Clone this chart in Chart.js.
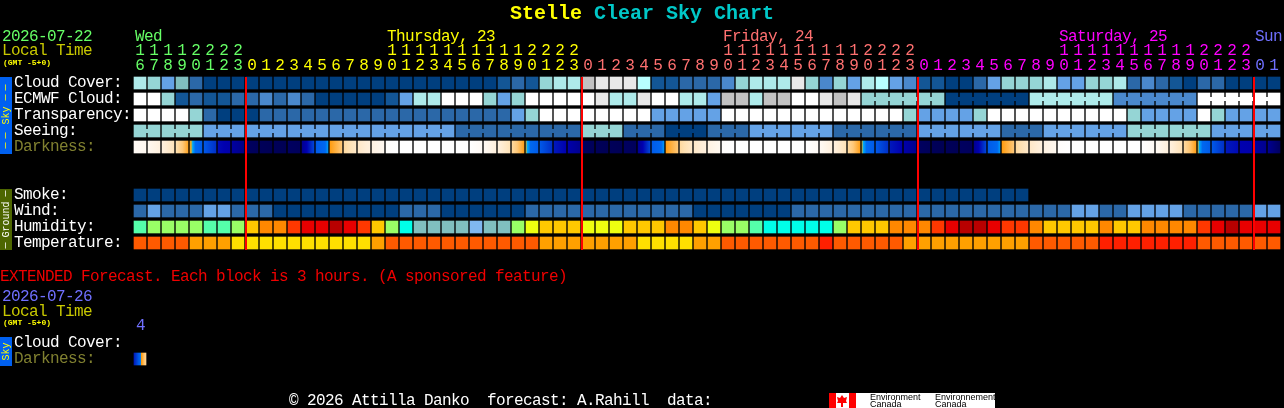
<!DOCTYPE html>
<html>
<head>
<meta charset="utf-8">
<title>Stelle Clear Sky Chart</title>
<script src="https://cdn.jsdelivr.net/npm/chart.js@4"></script>
<style>
  html, body { margin: 0; padding: 0; background: #000; }
  canvas { display: block; }
</style>
</head>
<body>
<canvas id="csc" width="1284" height="408"></canvas>
<script>
/* ------------------ Data ------------------ */
const hours = [16,17,18,19,20,21,22,23,
  0,1,2,3,4,5,6,7,8,9,10,11,12,13,14,15,16,17,18,19,20,21,22,23,
  0,1,2,3,4,5,6,7,8,9,10,11,12,13,14,15,16,17,18,19,20,21,22,23,
  0,1,2,3,4,5,6,7,8,9,10,11,12,13,14,15,16,17,18,19,20,21,22,23,
  0,1];
const dayOfHour = [0,0,0,0,0,0,0,0,
  1,1,1,1,1,1,1,1,1,1,1,1,1,1,1,1,1,1,1,1,1,1,1,1,
  2,2,2,2,2,2,2,2,2,2,2,2,2,2,2,2,2,2,2,2,2,2,2,2,
  3,3,3,3,3,3,3,3,3,3,3,3,3,3,3,3,3,3,3,3,3,3,3,3,
  4,4];
const dayNames = ['Wed', 'Thursday, 23', 'Friday, 24', 'Saturday, 25', 'Sun'];
const dayFirstCol = [0, 18, 42, 66, 80];
const midnightCols = [8, 32, 56, 80];

// cloud-like levels, index into skyPalette
const cloudCover = [7,6,4,5,2,0,0,0,0,0,0,0,0,0,0,0,0,0,0,0,0,0,0,0,0,0,1,2,1,6,7,7,
  9,10,10,10,8,1,1,2,2,2,3,6,7,7,7,10,6,3,6,4,
  7,8,4,3,1,1,0,0,2,4,6,6,6,7,4,4,6,6,7,2,3,2,1,0,2,2,0,0,0,0];
const ecmwfCloud = [11,11,6,1,2,1,1,2,2,3,2,3,2,0,0,0,0,0,1,4,7,7,
  11,11,11,6,4,6,11,11,11,11,11,10,7,7,10,11,11,7,7,4,9,9,7,9,9,11,11,10,9,10,
  6,6,6,6,6,6,0,0,0,0,0,0,7,7,7,7,7,7,3,3,3,3,3,3,11,11,11,11,11,11];
const transparency = [11,11,11,11,6,2,0,0,0,2,2,2,2,2,2,2,2,2,2,2,2,2,2,2,2,2,2,4,6,11,11,11,
  11,11,11,11,11,4,4,4,4,4,11,11,11,11,11,11,11,11,11,11,
  11,11,11,6,4,4,4,4,6,11,11,11,11,11,11,11,11,11,11,6,4,4,4,4,11,6,4,4,4,4];
const seeing = [6,6,6,6,6,4,4,4,4,4,4,4,4,4,4,4,4,4,4,4,4,4,4,2,2,2,2,2,2,2,2,2,
  6,6,6,2,2,2,0,0,0,2,2,2,4,4,4,4,4,4,2,2,2,2,2,2,
  4,4,4,4,4,4,2,2,2,4,4,4,4,4,4,6,6,6,6,6,6,4,4,4,4,4];
const smoke = [0,0,0,0,0,0,0,0,0,0,0,0,0,0,0,0,0,0,0,0,0,0,0,0,0,0,0,0,0,0,0,0,
  0,0,0,0,0,0,0,0,0,0,0,0,0,0,0,0,0,0,0,0,0,0,0,0,0,0,0,0,0,0,0,0];
const wind = [2,4,2,2,2,4,4,2,2,2,0,0,0,0,0,0,0,0,0,2,2,2,0,0,0,0,0,0,2,2,2,2,
  2,2,2,2,2,2,2,2,0,0,0,0,0,0,0,2,2,2,2,2,
  2,2,2,2,2,2,2,2,2,2,2,2,2,2,2,4,4,2,2,4,4,4,4,2,2,2,2,2,4,4];
// index into humidityPalette
const humidity = [7,6,6,6,6,7,7,6,4,3,3,2,1,1,0,1,2,4,6,8,9,9,9,9,10,9,9,6,5,4,4,4,
  5,5,5,4,4,4,3,3,4,5,6,6,7,8,8,8,8,8,6,4,
  4,4,3,3,3,2,1,0,0,1,2,2,3,4,4,4,4,3,4,4,3,3,3,3,2,1,0,1,1,1];
// index into temperaturePalette
const temperature = [1,1,1,1,2,2,2,3,3,3,3,3,3,3,3,3,3,2,1,1,1,1,1,1,1,1,1,1,1,2,2,2,
  2,2,2,2,3,3,3,3,2,2,1,1,1,1,1,1,1,0,1,1,
  1,1,1,2,2,2,2,2,2,2,2,2,1,1,1,1,1,0,0,0,0,0,0,0,1,1,1,1,1,1];
// sky brightness at the left and right edge of each block, position on the darkness ramp
const darknessStart = [.7,1,1.8,3,5,6,7.8,8.5,10,10.3,10.3,10,9,5.9,5,3.3,2.4,1.6,.3,0,0,0,0,0,
  0,.8,1.8,3.3,5.1,6,7.5,8.2,10,10.3,10.3,10,9,5.9,5,3.3,2.4,1.6,.3,0,0,0,0,0,
  0,.8,1.8,3.3,5.1,6,7.5,8.2,10,10.3,10.3,10,9,5.9,5,3.3,2.4,1.6,.3,0,0,0,0,0,
  .1,.8,1.8,3.3,5.1,6,7.5,8,8.5,9];
const darknessEnd = [1,1.7,2.7,4.8,5.9,7,8.2,9.2,10.3,10.5,10.5,10.2,6.5,5.25,4,2.4,1.8,1,0,0,0,0,0,0,
  .7,1.8,2.8,4.9,5.9,7,8,9,10.3,10.5,10.5,10.2,6.5,5.25,4,2.4,1.8,1,0,0,0,0,0,0,
  .7,1.8,2.8,4.9,5.9,7,8,9,10.3,10.5,10.5,10.2,6.5,5.25,4,2.4,1.8,1,0,0,0,0,0,0,
  .7,1.8,2.8,4.9,5.9,7,7.8,8.2,9,10];
const extDarknessStart = [7.5];
const extDarknessEnd = [3.5];

/* ------------------ Palettes ------------------ */
const skyPalette = ['#003f7f','#135696','#2b68a8','#4a88cc','#64a2e6','#80bfbf','#95d5d5','#aeeaea',
  '#b8ffff','#c2c2c2','#e8e8e8','#ffffff'];
const humidityPalette = ['#b80000','#e80000','#ff3800','#ff8800','#ffc800','#eeff10','#99ff66','#55ffaa',
  '#00ffe8','#80c0c0','#80b8f0'];
const temperaturePalette = ['#ff2000','#ff5a00','#ffa000','#ffe000'];
const rampStops = [0,1,2,3,4,5,5.1,5.2,5.4,6,7,8,9,10,11];
const rampColors = ['#ffffff','#fff8f0','#ffeed8','#ffe0b0','#ffc878','#ff9c10','#c0b040','#00a8f8',
  '#0068f0','#0058e8','#0030c8','#0000b0','#000090','#000060','#000048'];
const dayColors = ['#66ff66','#ffff00','#ff7070','#ff00ff','#7070ff'];

const FONT = '"Liberation Mono", monospace';

/* ------------------ Row helpers ------------------ */
// slot: one slot is one row of the page grid
const HALF = 0.375;
function paletteRow(label, values, slot, palette) {
  return {
    label,
    data: values.map(() => [slot - HALF, slot + HALF]),
    backgroundColor: values.map(v => palette[v])
  };
}

function rampColor(v) {
  let i = 0;
  while (i < rampStops.length - 2 && v > rampStops[i + 1]) i++;
  const t = (v - rampStops[i]) / (rampStops[i + 1] - rampStops[i]);
  const a = rampColors[i], b = rampColors[i + 1];
  const ch = (c, o) => parseInt(c.slice(o, o + 2), 16);
  const mix = o => Math.round(ch(a, o) + (ch(b, o) - ch(a, o)) * t);
  return `rgb(${mix(1)},${mix(3)},${mix(5)})`;
}

function darknessRow(label, starts, ends, slot) {
  return {
    label,
    data: starts.map(() => [slot - HALF, slot + HALF]),
    backgroundColor: (ctx) => {
      const a = starts[ctx.dataIndex], b = ends[ctx.dataIndex];
      const x = ctx.chart.scales.x.getPixelForValue(ctx.dataIndex) - 6;
      if (!Number.isFinite(x)) return rampColor(a);
      const g = ctx.chart.ctx.createLinearGradient(x, 0, x + 12, 0);
      g.addColorStop(0, rampColor(a));
      rampStops.forEach((s) => {
        const t = (s - a) / (b - a);
        if (t > 0 && t < 1) g.addColorStop(t, rampColor(s));
      });
      g.addColorStop(1, rampColor(b));
      return g;
    }
  };
}

/* ------------------ Page text and decoration ------------------ */
function text(c, str, x, y, color, font) {
  c.fillStyle = color;
  c.font = font || `16px ${FONT}`;
  c.letterSpacing = font ? '0px' : '-0.6px';
  c.fillText(str, x, y);
}

function sideTab(c, scale, from, to, color, textColor, word, dashes) {
  const top = scale.getPixelForValue(from) - 6;
  const bottom = scale.getPixelForValue(to) + 7;
  c.fillStyle = color;
  c.fillRect(0, top, 12, bottom - top);
  c.save();
  c.translate(9, (top + bottom) / 2);
  c.rotate(-Math.PI / 2);
  c.textAlign = 'center';
  text(c, word, 0, 0, textColor, `10px ${FONT}`);
  dashes.forEach(d => text(c, '\u2014', d, -1, textColor, `10px ${FONT}`));
  c.restore();
}

const cscPage = {
  id: 'cscPage',
  beforeDatasetsDraw(chart) {
    const c = chart.ctx, xs = chart.scales.x, ys = chart.scales.y;
    c.save();
    // joined blocks: seeing is a 3 hour model, the late ECMWF part 6 hours
    const bridge = (values, slot, i) => {
      c.fillStyle = skyPalette[values[i]];
      c.fillRect(xs.getPixelForValue(i) + 6, ys.getPixelForValue(slot) - 2, 2, 4);
    };
    for (let i = 0; i < hours.length - 1; i++) {
      if (hours[i + 1] % 3 !== 0) bridge(seeing, 3, i);
      if (i >= 52 && (hours[i + 1] + 4) % 6 !== 0) bridge(ecmwfCloud, 1, i);
    }
    c.restore();
  },
  afterDatasetsDraw(chart) {
    const c = chart.ctx, xs = chart.scales.x, ys = chart.scales.y;
    c.save();
    c.textAlign = 'left';
    c.textBaseline = 'alphabetic';

    // midnight markers
    c.fillStyle = '#ff0000';
    midnightCols.forEach((col) => {
      const x = xs.getPixelForValue(col) - 7;
      const top = ys.getPixelForValue(0) - 6;
      c.fillRect(x, top, 2, ys.getPixelForValue(10) + 7 - top);
    });

    // title
    const titleFont = `bold 20px ${FONT}`;
    text(c, 'Stelle', 510, 19, '#ffff00', titleFont);
    text(c, 'Clear Sky Chart', 594, 19, '#00c8c8', titleFont);

    // header, left
    text(c, '2026-07-22', 2, 41, dayColors[0]);
    text(c, 'Local Time', 2, 55, '#c8c800');
    text(c, '(GMT -5+0)', 3, 65, '#ffff00', `bold 8px ${FONT}`);

    // day names
    dayNames.forEach((name, d) => {
      text(c, name, xs.getPixelForValue(dayFirstCol[d]) - 5, 41, dayColors[d]);
    });

    // row labels
    const labels = [['Cloud Cover:', 0], ['ECMWF Cloud:', 1], ['Transparency:', 2], ['Seeing:', 3],
      ['Darkness:', 4], ['Smoke:', 7], ['Wind:', 8], ['Humidity:', 9], ['Temperature:', 10],
      ['Cloud Cover:', 16.25], ['Darkness:', 17.25]];
    labels.forEach(([name, slot]) => {
      const color = name === 'Darkness:' ? '#808030' : '#ffffff';
      text(c, name, 14, ys.getPixelForValue(slot) + 4, color);
    });

    sideTab(c, ys, 0, 4, '#0060f0', '#ffff00', 'Sky', [28, 18, -20, -30]);
    sideTab(c, ys, 7, 10, '#4d6600', '#ffffff', 'Ground', [26, -26]);
    sideTab(c, ys, 16.25, 17.25, '#0060f0', '#ffff00', 'Sky', []);

    // extended block
    text(c, 'EXTENDED Forecast. Each block is 3 hours. (A sponsored feature)', 0, 281, '#f00000');
    text(c, '2026-07-26', 2, 301, dayColors[4]);
    text(c, 'Local Time', 2, 316, '#c8c800');
    text(c, '(GMT -5+0)', 3, 325, '#ffff00', `bold 8px ${FONT}`);
    text(c, '4', 136, 330, dayColors[4]);

    // footer
    text(c, '\u00a9 2026 Attilla Danko  forecast: A.Rahill  data:', 289, 405, '#ffffff');

    // Environment Canada banner
    c.fillStyle = '#ffffff';
    c.fillRect(829, 393, 166, 15);
    c.fillStyle = '#ff0000';
    c.fillRect(829, 393, 7, 15);
    c.fillRect(849, 393, 7, 15);
    c.fillRect(841, 403, 2, 4);
    c.beginPath();
    [[842,395],[844,398],[847,397],[846,401],[847,403],[837,403],[838,401],[837,397],[840,398]]
      .forEach(([x, y], i) => (i ? c.lineTo(x, y) : c.moveTo(x, y)));
    c.fill();
    const tiny = '9px "Liberation Sans", sans-serif';
    text(c, 'Environment', 870, 400, '#000', tiny);
    text(c, 'Canada', 870, 407, '#000', tiny);
    text(c, 'Environnement', 935, 400, '#000', tiny);
    text(c, 'Canada', 935, 407, '#000', tiny);
    c.restore();
  }
};

/* ------------------ Chart ------------------ */
new Chart(document.getElementById('csc'), {
  type: 'bar',
  plugins: [cscPage],
  data: {
    labels: hours,
    datasets: [
      paletteRow('Cloud Cover', cloudCover, 0, skyPalette),
      paletteRow('ECMWF Cloud', ecmwfCloud, 1, skyPalette),
      paletteRow('Transparency', transparency, 2, skyPalette),
      paletteRow('Seeing', seeing, 3, skyPalette),
      darknessRow('Darkness', darknessStart, darknessEnd, 4),
      paletteRow('Smoke', smoke, 7, skyPalette),
      paletteRow('Wind', wind, 8, skyPalette),
      paletteRow('Humidity', humidity, 9, humidityPalette),
      paletteRow('Temperature', temperature, 10, temperaturePalette),
      darknessRow('Extended Darkness', extDarknessStart, extDarknessEnd, 17.25)
    ]
  },
  options: {
    responsive: false,
    animation: false,
    devicePixelRatio: 1,
    layout: { padding: { left: 133, right: 3, top: 0, bottom: 35 } },
    datasets: { bar: { grouped: false, barThickness: 12, borderWidth: 0 } },
    plugins: { legend: { display: false }, title: { display: false }, tooltip: { enabled: false } },
    scales: {
      x: {
        position: 'top',
        grid: { display: false, drawTicks: false },
        border: { display: false },
        afterFit(axis) { axis.height = 73; },
        ticks: {
          autoSkip: false,
          maxRotation: 0,
          padding: 0,
          font: { family: FONT, size: 16, lineHeight: 0.9375 },
          color: (ctx) => dayColors[dayOfHour[ctx.index]],
          callback: (value, i) => {
            const h = hours[i];
            return [h < 10 ? ' ' : String(Math.floor(h / 10)), String(h % 10)];
          }
        }
      },
      y: {
        display: false,
        reverse: true,
        min: -0.625,
        max: 18.125
      }
    }
  }
});
</script>
</body>
</html>
